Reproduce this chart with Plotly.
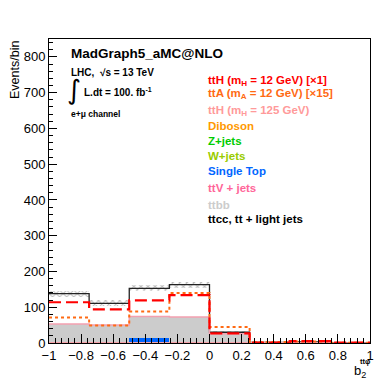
import numpy as np
import plotly.graph_objects as go

# bins of b2 (8 bins from -1 to 1)
edges = [-1.0, -0.75, -0.5, -0.25, 0.0, 0.25, 0.5, 0.75, 1.0]

# stacked backgrounds (bottom to top)
ttv = [3, 3, 3, 3, 2, 0.5, 0.5, 0.3]
single_top = [0, 0, 11, 0, 0, 0, 0, 0]
ttbb = [49, 46, 59, 69, 23, 0.5, 1, 0.3]
ttcc_light = [86, 62, 80, 91, 5, 0.5, 1.5, 0.4]
uncert = [8, 8, 8, 8, 4, 1, 1, 1]

# signals (not stacked)
tth_12 = [114, 94, 119, 134, 27, 1, 5, 1]
tta_12 = [71, 49, 88, 140, 45, 3, 4, 1]
tth_125 = [53, 50, 74, 73, 26, 1, 1, 0]

x_ticks = [-1, -0.8, -0.6, -0.4, -0.2, 0, 0.2, 0.4, 0.6, 0.8, 1]
x_ticklabels = ["−1", "−0.8", "−0.6", "−0.4", "−0.2", "0", "0.2", "0.4", "0.6", "0.8", "1"]
y_ticks = [0, 100, 200, 300, 400, 500, 600, 700, 800]

legend_labels = [
    "ttH (m<sub>H</sub> = 12 GeV) [×1]",
    "ttA (m<sub>A</sub> = 12 GeV) [×15]",
    "ttH (m<sub>H</sub> = 125 GeV)",
    "Diboson",
    "Z+jets",
    "W+jets",
    "Single Top",
    "ttV + jets",
    "ttbb",
    "ttcc, tt + light jets",
]
legend_colors = ["#ff0000", "#ff6a13", "#ff9a9a", "#ff9900", "#00cc00",
                 "#99cc00", "#0066ff", "#ff6699", "#cccccc", "#000000"]
legend_y = [80.5, 94, 110.5, 126.5, 140.5, 156, 170.5, 188, 205, 218.5]

centers = [(a + b) / 2 for a, b in zip(edges[:-1], edges[1:])]
width = edges[1] - edges[0]

fig = go.Figure()

# stacked fills
base = np.zeros(len(centers))
for vals, col in [(ttv, "#f4a0a8"), (single_top, "#0066ff"), (ttbb, "#cccccc")]:
    fig.add_trace(go.Bar(x=centers, y=vals, base=base.copy(), width=width,
                         marker=dict(color=col, line=dict(width=0))))
    base += np.array(vals)
total = base + np.array(ttcc_light)


def step(vals):
    return list(edges), list(vals) + [vals[-1]]


# uncertainty band (hatched)
unc = np.array(uncert)
fig.add_trace(go.Bar(x=centers, y=2 * unc, base=total - unc, width=width,
                     marker=dict(color="rgba(0,0,0,0)", line=dict(width=0),
                                 pattern=dict(shape="x", fgcolor="#777777",
                                              bgcolor="rgba(255,255,255,0)",
                                              size=5, solidity=0.35))))

# total outline
x, y = step(total)
fig.add_trace(go.Scatter(x=x, y=y, mode="lines", line_shape="hv",
                         line=dict(color="#222222", width=1.3)))

# signals
x, y = step(tth_125)
fig.add_trace(go.Scatter(x=x, y=y, mode="lines", line_shape="hv",
                         line=dict(color="#f4a0b0", width=1.5)))
x, y = step(tta_12)
fig.add_trace(go.Scatter(x=x, y=y, mode="lines", line_shape="hv",
                         line=dict(color="#ff6a13", width=2, dash="dot")))
x, y = step(tth_12)
fig.add_trace(go.Scatter(x=x, y=y, mode="lines", line_shape="hv",
                         line=dict(color="#ff0000", width=2.2, dash="12px,5px")))

H = 382
L, R, T, B = 49, 370, 39, 343


def px(xp, yp):
    return (xp - L) / (R - L), (B - yp) / (B - T)


def note(text, xx, yy, size, color="black", family="Liberation Sans", **kw):
    ax, ay = px(xx, yy)
    d = dict(x=ax, y=ay, xref="paper", yref="paper", text=text, showarrow=False,
             xanchor="left", yanchor="middle",
             font=dict(family=family, size=size, color=color))
    d.update(kw)
    return d


ann = []
for text, col, yy in zip(legend_labels, legend_colors, legend_y):
    ann.append(note("<b>%s</b>" % text, 206, yy, 11.5, col))

ann.append(note("<b>MadGraph5_aMC@NLO</b>", 69, 54, 13.5))
ann.append(note("<b>LHC,  √s = 13 TeV</b>", 69, 73, 10))
ann.append(note("<b>L.dt = 100. fb<sup>-1</sup></b>", 82, 92, 10))
ann.append(note("∫", 65, 89, 27, family="DejaVu Sans"))
ann.append(note("<b>e+μ channel</b>", 69, 114, 8.5))

# axis titles
ann.append(note("Events/bin", 15, 39, 12.5, textangle=-90,
                xanchor="center", yanchor="top"))
ann.append(note("b<sub>2</sub>", 352, 371, 13))
ann.append(note("<b>ttφ</b>", 358, 361, 7.5))

fig.update_layout(
    width=378, height=H, autosize=False,
    margin=dict(l=L, r=378 - R, t=T, b=H - B),
    paper_bgcolor="white", plot_bgcolor="white",
    barmode="overlay", bargap=0, showlegend=False,
    annotations=ann,
    font=dict(family="Liberation Sans", color="black"),
)
fig.update_xaxes(range=[-1, 1], tickvals=x_ticks, ticktext=x_ticklabels,
                 ticks="inside", ticklen=9, automargin=False,
                 tickcolor="black", showgrid=False, zeroline=False,
                 showline=True, mirror=True, linecolor="black", linewidth=1,
                 tickfont=dict(size=13),
                 minor=dict(dtick=0.04, tick0=-1, ticks="inside", ticklen=5,
                            tickcolor="black"))
fig.update_yaxes(range=[0, 850], tickvals=y_ticks, ticks="inside", ticklen=8,
                 automargin=False,
                 tickcolor="black", showgrid=False, zeroline=False,
                 showline=True, mirror=True, linecolor="black", linewidth=1,
                 tickfont=dict(size=13),
                 minor=dict(dtick=20, ticks="inside", ticklen=4, tickcolor="black"))

fig.write_html("out.html", config={"displayModeBar": False},
               post_script="document.body.style.margin='0';")
